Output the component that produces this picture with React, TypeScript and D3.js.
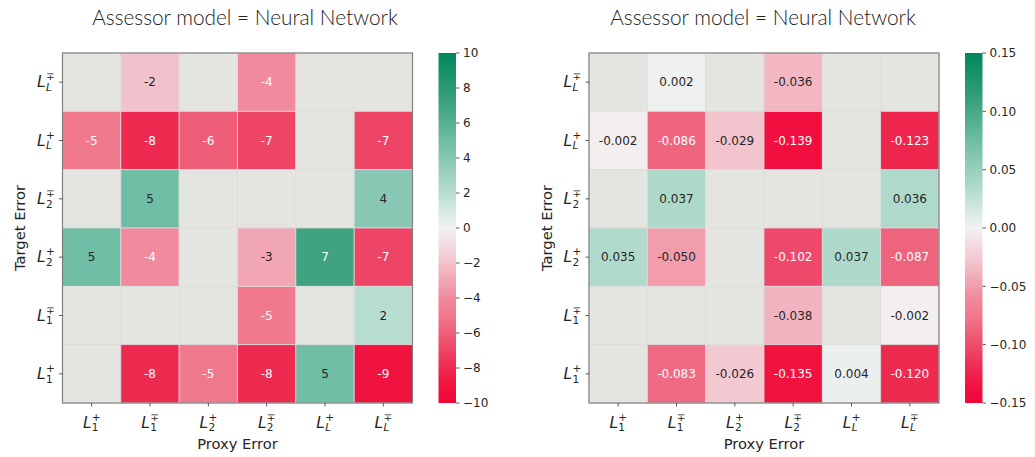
import React from "react";
import * as d3 from "d3";

// ---------- DATA ----------
// columns (Proxy Error) left → right, rows (Target Error) top → bottom
const colLabels = [
  { sub: "1", sup: "+" },
  { sub: "1", sup: "∓" },
  { sub: "2", sup: "+" },
  { sub: "2", sup: "∓" },
  { sub: "L", sup: "+" },
  { sub: "L", sup: "∓" },
];
const rowLabels = [
  { sub: "L", sup: "∓" },
  { sub: "L", sup: "+" },
  { sub: "2", sup: "∓" },
  { sub: "2", sup: "+" },
  { sub: "1", sup: "∓" },
  { sub: "1", sup: "+" },
];

const leftValues: (number | null)[][] = [
  [null, -2, null, -4, null, null],
  [-5, -8, -6, -7, null, -7],
  [null, 5, null, null, null, 4],
  [5, -4, null, -3, 7, -7],
  [null, null, null, -5, null, 2],
  [null, -8, -5, -8, 5, -9],
];
const rightValues: (number | null)[][] = [
  [null, 0.002, null, -0.036, null, null],
  [-0.002, -0.086, -0.029, -0.139, null, -0.123],
  [null, 0.037, null, null, null, 0.036],
  [0.035, -0.05, null, -0.102, 0.037, -0.087],
  [null, null, null, -0.038, null, -0.002],
  [null, -0.083, -0.026, -0.135, 0.004, -0.12],
];
const leftTicks = [10, 8, 6, 4, 2, 0, -2, -4, -6, -8, -10];
const rightTicks = [0.15, 0.1, 0.05, 0, -0.05, -0.1, -0.15];
const titleText = "Assessor model = Neural Network";

// ---------- STYLE ----------
const W = 1035;
const H = 457;
const FONT = "DejaVu Sans, sans-serif";
const NAN_COLOR = "#e4e5e0";
const GRID_COLOR = "#dcdcdc";
const TEXT_DARK = "#262626";

// normalized colormap t in [-1, 1]
const cmapStops = [-1, -0.9, -0.8, -0.7, -0.6, -0.5, -0.4, -0.2, 0, 0.2, 0.4, 0.5, 0.7, 1];
const cmapColors = [
  "#f0063a", "#f0123f", "#ee2a50", "#ee4466", "#ee5e79", "#f0798e", "#f08a9c",
  "#f2c2cc", "#f3f2f2", "#b8ded1", "#87c7b3", "#6fbda4", "#3fa37f", "#00875e",
];
const cmap = d3.scaleLinear<string>().domain(cmapStops).range(cmapColors).interpolate(d3.interpolateRgb).clamp(true);

function MathLabel({ x, y, sub, sup, anchor }: { x: number; y: number; sub: string; sup: string; anchor: "middle" | "end" }) {
  const total = 17.5;
  const x0 = anchor === "middle" ? x - total / 2 : x - total;
  const subItalic = sub === "L";
  return (
    <g fill={TEXT_DARK} fontFamily={FONT}>
      <text x={x0} y={y} fontSize={15.5} fontStyle="italic">L</text>
      <text x={x0 + 8.9} y={y - 6.7} fontSize={10.5}>{sup}</text>
      <text x={x0 + 8.9} y={y + 3.8} fontSize={10.5} fontStyle={subItalic ? "italic" : "normal"}>{sub}</text>
    </g>
  );
}

function Heatmap({
  x0, y0, size, values, vmax, ticks, fmt, tickFmt, cbX, titleX, yLabelX, id,
}: {
  x0: number; y0: number; size: number; values: (number | null)[][]; vmax: number;
  ticks: number[]; fmt: (v: number) => string; tickFmt: (v: number) => string;
  cbX: number; titleX: number; yLabelX: number; id: string;
}) {
  const xs = d3.scaleBand<number>().domain(d3.range(colLabels.length)).range([x0, x0 + size]);
  const ys = d3.scaleBand<number>().domain(d3.range(rowLabels.length)).range([y0, y0 + size]);
  const cbY = d3.scaleLinear().domain([-vmax, vmax]).range([y0 + size, y0]);
  const cbW = 17.5;
  const gradStops = d3.range(0, 1.0001, 0.02);
  const textColor = (t: number) => (t < -0.36 || t > 0.6 ? "#ffffff" : TEXT_DARK);
  return (
    <g>
      <defs>
        <linearGradient id={id} x1="0" y1="1" x2="0" y2="0">
          {gradStops.map((s, i) => (
            <stop key={i} offset={s} stopColor={cmap(s * 2 - 1)} />
          ))}
        </linearGradient>
      </defs>
      <text x={titleX} y={25} textAnchor="middle" fontFamily="Lato, sans-serif" fontWeight={300} fontSize={20.8} fill="#222">
        {titleText}
      </text>
      {values.map((row, r) =>
        row.map((v, c) => (
          <rect
            key={`${r}-${c}`}
            x={xs(c)!}
            y={ys(r)!}
            width={xs.bandwidth()}
            height={ys.bandwidth()}
            fill={v === null ? NAN_COLOR : cmap(v / vmax)}
            stroke={GRID_COLOR}
            strokeWidth={0.8}
          />
        ))
      )}
      {values.map((row, r) =>
        row.map((v, c) =>
          v === null ? null : (
            <text
              key={`t${r}-${c}`}
              x={xs(c)! + xs.bandwidth() / 2}
              y={ys(r)! + ys.bandwidth() / 2 + 4.3}
              textAnchor="middle"
              fontFamily={FONT}
              fontSize={12}
              fill={textColor(v / vmax)}
            >
              {fmt(v)}
            </text>
          )
        )
      )}
      <rect x={x0} y={y0} width={size} height={size} fill="none" stroke="#808080" strokeWidth={1.2} />
      {/* x ticks */}
      {colLabels.map((lab, c) => {
        const cx = xs(c)! + xs.bandwidth() / 2;
        return (
          <g key={`xt${c}`}>
            <line x1={cx} x2={cx} y1={y0 + size} y2={y0 + size + 3.5} stroke="#333" strokeWidth={0.8} />
            <MathLabel x={cx} y={y0 + size + 24.5} sub={lab.sub} sup={lab.sup} anchor="middle" />
          </g>
        );
      })}
      {/* y ticks */}
      {rowLabels.map((lab, r) => {
        const cy = ys(r)! + ys.bandwidth() / 2;
        return (
          <g key={`yt${r}`}>
            <line x1={x0 - 3.5} x2={x0} y1={cy} y2={cy} stroke="#333" strokeWidth={0.8} />
            <MathLabel x={x0 - 8} y={cy + 5} sub={lab.sub} sup={lab.sup} anchor="end" />
          </g>
        );
      })}
      <text x={x0 + size / 2} y={y0 + size + 46} textAnchor="middle" fontFamily={FONT} fontSize={14.7} fill={TEXT_DARK}>
        Proxy Error
      </text>
      <text
        transform={`translate(${yLabelX},${y0 + size / 2}) rotate(-90)`}
        textAnchor="middle"
        fontFamily={FONT}
        fontSize={14.7}
        fill={TEXT_DARK}
      >
        Target Error
      </text>
      {/* colorbar */}
      <rect x={cbX} y={y0} width={cbW} height={size} fill={`url(#${id})`} />
      {ticks.map((t, i) => (
        <g key={`cb${i}`}>
          <line x1={cbX + cbW} x2={cbX + cbW + 3.5} y1={cbY(t)} y2={cbY(t)} stroke="#333" strokeWidth={0.8} />
          <text x={cbX + cbW + 7} y={cbY(t) + 4.3} fontFamily={FONT} fontSize={12} fill={TEXT_DARK}>
            {tickFmt(t)}
          </text>
        </g>
      ))}
    </g>
  );
}

export default function App() {
  const minusFmt = (s: string) => s.replace("-", "\u2212");
  return (
    <svg width={W} height={H} style={{ position: "absolute", left: 0, top: 0, background: "#fff" }}>
      <rect width={W} height={H} fill="#fff" />
      <Heatmap
        id="gradL"
        x0={62.5}
        y0={53}
        size={350}
        values={leftValues}
        vmax={10}
        ticks={leftTicks}
        fmt={(v) => d3.format(".0f")(v).replace("\u2212", "-")}
        tickFmt={(v) => minusFmt(String(v))}
        cbX={438.5}
        titleX={245}
        yLabelX={25}
      />
      <Heatmap
        id="gradR"
        x0={589}
        y0={53}
        size={350}
        values={rightValues}
        vmax={0.15}
        ticks={rightTicks}
        fmt={(v) => d3.format(".3f")(v).replace("\u2212", "-")}
        tickFmt={(v) => minusFmt(v.toFixed(2))}
        cbX={965}
        titleX={763}
        yLabelX={552}
      />
    </svg>
  );
}
